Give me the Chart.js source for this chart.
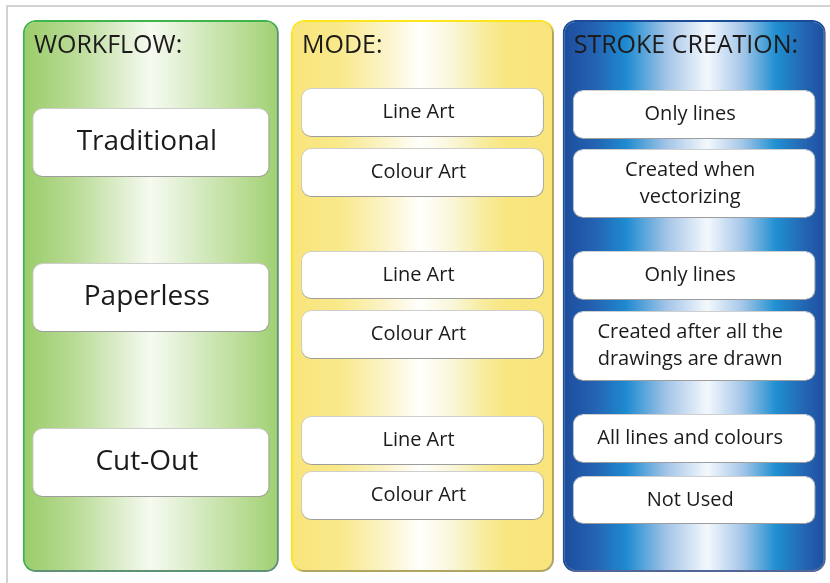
<!DOCTYPE html>
<html>
<head>
<meta charset="utf-8">
<script src="https://cdn.jsdelivr.net/npm/chart.js@4"></script>
<style>
html, body { margin: 0; background: #fff; }
#wrap { width: 830px; height: 583px; }
</style>
</head>
<body>
<div id="wrap"><canvas id="diagram"></canvas></div>
<script>
// columns of the diagram and the vertical extent of each box (y units, top = 0)
const columns = ["WORKFLOW:", "MODE:", "STROKE CREATION:"]
const panelSpan = [20, 572]

const workflowLabels = ["Traditional", "Paperless", "Cut-Out"]
const workflowSpans = [[108, 177], [263, 332], [428, 497]]

const modeLabels = ["Line Art", "Colour Art", "Line Art", "Colour Art", "Line Art", "Colour Art"]
const modeSpans = [[88, 137], [148, 197], [251, 299], [310, 359], [416, 465], [471, 520]]

const strokeLabels = ["Only lines", "Created when\nvectorizing", "Only lines",
    "Created after all the\ndrawings are drawn", "All lines and colours", "Not Used"]
const strokeSpans = [[90, 139], [149, 218], [251, 300], [311, 381], [414, 463], [476, 524]]

const FONT = "'Open Sans', 'DejaVu Sans', sans-serif"
const INK = "#1d1a1b"
const panelPcts = [0.942, 0.968, 0.968]

const panelStops = [
    [[0, "#9acc68"], [0.2, "#b8db95"], [0.5, "#f6faf1"], [0.75, "#cbe5b1"], [1, "#a0d070"]],
    [[0, "#f8e47a"], [0.18, "#f9e98a"], [0.35, "#fbf3c5"], [0.49, "#fffffc"], [0.62, "#f9f6d6"],
        [0.73, "#f8ec9e"], [0.82, "#f8e680"], [1, "#f8e47a"]],
    [[0, "#1d4c9c"], [0.12, "#2462b2"], [0.24, "#1e8ad0"], [0.4, "#a6c6e8"], [0.55, "#f4f8fd"],
        [0.68, "#a7c8e9"], [0.81, "#2090d0"], [0.92, "#2465b3"], [1, "#1b4f9e"]],
]
const panelBorders = ["#3db54a", "#fce51a", "#1a4c98"]

const spansToPoints = (col, spans) => spans.map(s => ({ x: columns[col], y: s }))

function panelFill(c) {
    const chart = c.chart
    const col = c.dataset.column
    if (c.type !== "data" || !chart.chartArea) return "#eeeeee"
    const xs = chart.scales.x
    const center = xs.getPixelForValue(col)
    const half = xs.width / columns.length * panelPcts[col] / 2
    const g = chart.ctx.createLinearGradient(center - half, 0, center + half, 0)
    panelStops[col].forEach(([o, color]) => g.addColorStop(o, color))
    return g
}

const frame = {
    id: "frame",
    beforeDatasetsDraw(chart) {
        const ctx = chart.ctx
        ctx.save()
        ctx.strokeStyle = "#d2d2d2"
        ctx.lineWidth = 2
        ctx.beginPath()
        ctx.moveTo(7, chart.height)
        ctx.lineTo(7, 6)
        ctx.lineTo(chart.width, 6)
        ctx.stroke()
        ctx.restore()
    }
}

const shadows = {
    id: "shadows",
    beforeDatasetDraw(chart, args) {
        const ctx = chart.ctx
        ctx.save()
        const ds = chart.data.datasets[args.index]
        if (ds.column !== undefined) {
            ctx.shadowColor = "rgba(120, 120, 150, 0.6)"
            ctx.shadowBlur = 2
            ctx.shadowOffsetX = 3
            ctx.shadowOffsetY = 3
        } else {
            ctx.shadowColor = "rgba(60, 60, 60, 0.4)"
            ctx.shadowBlur = 3
            ctx.shadowOffsetX = 1
            ctx.shadowOffsetY = 2
        }
    },
    afterDatasetDraw(chart) {
        chart.ctx.restore()
    }
}

const labels = {
    id: "labels",
    afterDatasetsDraw(chart) {
        const ctx = chart.ctx
        ctx.save()
        ctx.fillStyle = INK
        chart.data.datasets.forEach((ds, i) => {
            const meta = chart.getDatasetMeta(i)
            if (ds.column !== undefined) {
                const el = meta.data[0]
                ctx.font = `25px ${FONT}`
                ctx.textAlign = "left"
                ctx.textBaseline = "middle"
                ctx.fillText(columns[ds.column], el.x - el.width / 2 + 11, 46)
                return
            }
            ctx.font = `${ds.fontSize}px ${FONT}`
            ctx.textAlign = "center"
            ctx.textBaseline = "middle"
            meta.data.forEach((el, j) => {
                const lines = ds.texts[j].split("\n")
                const mid = (el.y + el.base) / 2
                lines.forEach((line, k) => {
                    ctx.fillText(line, el.x - 4, mid + (k - (lines.length - 1) / 2) * 27)
                })
            })
        })
        ctx.restore()
    }
}

const boxStyle = {
    backgroundColor: "#ffffff",
    borderColor: "#d2d2d2",
    borderWidth: 1,
    borderRadius: 10,
    borderSkipped: false,
    categoryPercentage: 1,
    grouped: false,
    order: 0,
}

const panelDatasets = columns.map((name, col) => ({
    column: col,
    data: [{ x: name, y: panelSpan }],
    backgroundColor: panelFill,
    borderColor: panelBorders[col],
    borderWidth: 2,
    borderRadius: 13,
    borderSkipped: false,
    barPercentage: panelPcts[col],
    categoryPercentage: 1,
    grouped: false,
    order: 2,
}))

new Chart(document.getElementById("diagram"), {
    type: "bar",
    data: {
        labels: columns,
        datasets: [
            ...panelDatasets,
            {
                ...boxStyle,
                data: spansToPoints(0, workflowSpans),
                texts: workflowLabels,
                fontSize: 28,
                barPercentage: 0.873,
            },
            {
                ...boxStyle,
                data: spansToPoints(1, modeSpans),
                texts: modeLabels,
                fontSize: 20,
                barPercentage: 0.894,
            },
            {
                ...boxStyle,
                data: spansToPoints(2, strokeSpans),
                texts: strokeLabels,
                fontSize: 20,
                barPercentage: 0.894,
            },
        ]
    },
    options: {
        responsive: true,
        maintainAspectRatio: false,
        animation: false,
        events: [],
        layout: { padding: { left: 15, right: 0, top: 0, bottom: 0 } },
        scales: {
            x: { type: "category", display: false, offset: true },
            y: { type: "linear", display: false, reverse: true, min: 0, max: 583 }
        },
        plugins: {
            legend: { display: false },
            tooltip: { enabled: false }
        }
    },
    plugins: [frame, shadows, labels]
});
</script>
</body>
</html>
